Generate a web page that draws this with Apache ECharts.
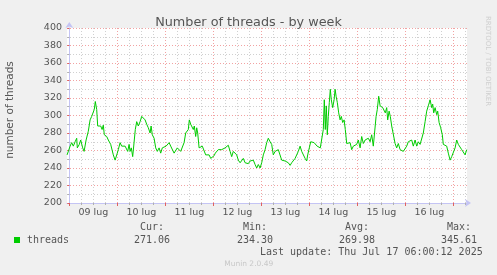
<!DOCTYPE html>
<html>
<head>
<meta charset="utf-8">
<script src="https://cdn.jsdelivr.net/npm/echarts@6/dist/echarts.min.js"></script>
<style>
html,body{margin:0;padding:0;background:#f0f0f0;}
#c{width:497px;height:275px;}
</style>
</head>
<body>
<div id="c"></div>
<script>
// hours since 09 lug 00:00
var hours = [
-1.1,-0.5,0.4,1.2,2.0,2.9,3.7,4.0,5.0,5.7,6.7,7.4,8.4,9.5,10.4,11.2,12.0,12.5,13.0,13.7,14.2,14.9,15.7,16.4,17.0,17.5,18.2,18.7,19.5,20.0,20.7,21.4,22.0,22.9,23.4,
24.0,24.5,25.4,26.2,27.0,27.9,28.7,29.2,29.9,30.4,31.0,31.7,32.4,33.0,33.7,34.5,35.4,36.2,37.0,37.9,38.7,39.5,40.4,40.9,41.5,42.4,43.2,44.0,44.9,45.7,46.5,47.4,
48.4,49.0,49.9,50.7,51.5,52.4,53.2,54.0,54.9,55.7,56.5,57.4,58.2,59.0,59.5,60.0,60.7,61.4,62.0,62.5,63.2,63.7,64.2,64.9,65.7,66.5,67.4,68.2,69.0,69.9,70.7,71.5,
72.4,73.0,73.7,74.5,75.4,76.2,77.0,77.9,78.7,79.5,80.4,81.2,82.0,82.9,83.7,84.5,85.4,86.2,87.0,87.9,88.7,89.5,90.4,91.2,92.0,92.9,93.7,94.5,95.4,
96.2,97.0,97.9,98.7,99.5,100.4,101.2,102.0,102.9,103.7,104.5,105.4,106.2,107.0,107.9,108.7,109.5,110.4,111.2,112.0,112.9,113.7,114.5,115.4,116.2,117.0,117.9,118.7,119.2,
120.0,120.7,121.5,122.4,123.2,123.9,124.7,125.5,126.4,127.0,127.5,128.0,128.5,129.0,129.5,130.0,130.5,131.0,131.7,132.4,132.9,133.4,134.0,134.7,135.4,136.0,136.7,137.4,138.0,138.7,139.5,140.4,141.2,142.0,142.9,143.7,
144.5,145.4,146.2,147.0,147.9,148.7,149.5,150.4,151.2,152.0,152.7,153.4,154.0,154.7,155.4,156.0,156.7,157.4,158.0,158.7,159.2,159.9,160.5,161.2,162.0,162.9,163.7,164.5,165.4,166.2,167.0,167.9,
168.7,169.5,170.4,171.2,172.0,172.9,173.7,174.5,175.4,176.2,177.0,177.9,178.7,179.5,180.4,181.2,181.7,182.2,182.9,183.7,184.2,184.9,185.7,186.5,187.0,187.9,188.7,189.5,190.4,191.2,
192.0,192.9,193.7,194.5,195.4,196.2,197.0,197.9,198.7
];
var threads = [
255,254,265,269,265,270,274,263,267,272,263,259,272,282,295,299,299,307,316,307,288,286,288,284,289,278,278,276,272,274,267,265,255,249,249,
257,261,269,265,267,265,266,259,267,259,263,253,253,284,293,288,293,299,299,295,290,286,280,288,278,274,263,259,263,257,263,261,
265,263,269,265,265,257,259,263,261,259,259,269,280,278,284,295,290,291,284,288,276,286,280,263,261,265,265,255,257,255,251,253,
254,257,259,261,259,261,260,263,261,266,259,253,259,261,255,249,246,248,251,246,248,245,248,246,249,244,240,244,240,
246,255,261,269,274,270,267,255,259,259,261,259,249,248,248,246,246,243,246,248,251,253,259,265,259,259,251,248,255,
263,270,270,269,268,265,267,263,261,284,318,284,311,278,299,315,330,318,309,318,330,322,315,303,295,299,292,295,284,268,267,269,261,265,263,267,
272,263,276,268,272,270,274,270,278,265,263,299,307,322,311,313,309,308,303,309,295,305,299,288,290,268,263,268,261,261,259,257,
265,270,268,272,265,272,265,270,267,268,280,293,305,311,318,309,313,303,309,301,305,292,286,278,267,265,265,257,249,253,
251,263,272,267,268,261,263,255,261
];
var dayTicks = [0,24,48,72,96,120,144,168,192];
var sixHourTicks = [6,12,18,30,36,42,54,60,66,78,84,90,102,108,114,126,132,138,150,156,162,174,180,186,198];
var labelHours = [12,36,60,84,108,132,156,180];
var dayLabels = ['09 lug','10 lug','11 lug','12 lug','13 lug','14 lug','15 lug','16 lug'];
var yTitle = 'number of threads';
var seriesName = 'threads';
var statLabels = ['Cur:','Min:','Avg:','Max:'];
var statValues = ['271.06','234.30','269.98','345.61'];
var lastUpdate = 'Last update: Thu Jul 17 06:00:12 2025';
var footer = 'Munin 2.0.49';
var sideText = 'RRDTOOL / TOBI OETIKER';
var titleText = 'Number of threads - by week';

var chart = echarts.init(document.getElementById('c'), null, {renderer:'canvas'});
var axisBlue = '#c4c4f4';
var redGrid = 'rgba(230,70,70,0.5)';
var grayGrid = 'rgba(150,150,150,0.45)';
var sans = 'DejaVu Sans';
var statX = [152, 255, 357, 459];

var graphics = [
  {type:'text', x:10, y:110, rotation:Math.PI/2, style:{text:yTitle, font:'10.5px "DejaVu Sans"', fill:'#555', textAlign:'center', textVerticalAlign:'middle'}},
  {type:'text', x:488, y:61, rotation:-Math.PI/2, style:{text:sideText, font:'7px "DejaVu Sans"', fill:'#cfcfcf', textAlign:'center', textVerticalAlign:'middle'}},
  {type:'rect', shape:{x:14, y:237, width:6, height:6}, style:{fill:'#00cc00'}},
  {type:'text', x:27, y:240, style:{text:seriesName, font:'10px "DejaVu Sans Mono"', fill:'#555', textAlign:'left', textVerticalAlign:'middle'}},
  {type:'text', x:482.7, y:252, style:{text:lastUpdate, font:'10px "DejaVu Sans Mono"', fill:'#555', textAlign:'right', textVerticalAlign:'middle'}},
  {type:'text', x:248.7, y:264, style:{text:footer, font:'7.5px "DejaVu Sans"', fill:'#c8c8c8', textAlign:'center', textVerticalAlign:'middle'}}
];
for (var i = 0; i < statLabels.length; i++) {
  graphics.push({type:'text', x:statX[i], y:227.5, style:{text:statLabels[i], font:'10px "DejaVu Sans Mono"', fill:'#555', textAlign:'center', textVerticalAlign:'middle'}});
  graphics.push({type:'text', x:statX[i], y:240, style:{text:statValues[i], font:'10px "DejaVu Sans Mono"', fill:'#555', textAlign:'center', textVerticalAlign:'middle'}});
}

var data = hours.map(function(h, i){ return [h, threads[i]]; });

chart.setOption({
  animation:false,
  backgroundColor:'#f0f0f0',
  title:{text:titleText, left:'center', top:11, textStyle:{fontFamily:sans, fontSize:12.8, fontWeight:'normal', color:'#555'}},
  grid:{left:67, top:28, width:400, height:175, show:true, backgroundColor:'#ffffff', borderWidth:0},
  xAxis:[
    {type:'value', position:'bottom', min:-1.15, max:198.85,
     axisLine:{show:true, lineStyle:{color:axisBlue, width:1}, symbol:['none','arrow'], symbolSize:[6,6], symbolOffset:[0,4]},
     axisTick:{show:true, customValues:sixHourTicks, length:2, lineStyle:{color:'#b0b0b0'}},
     axisLabel:{show:false},
     splitLine:{show:true, lineStyle:{color:grayGrid, type:[1,2], width:1}}},
    {type:'value', position:'bottom', min:-1.15, max:198.85,
     axisLine:{show:false},
     axisTick:{show:true, customValues:dayTicks, length:3, lineStyle:{color:'#e06060'}},
     axisLabel:{show:true, customValues:labelHours, margin:5, fontFamily:sans, fontSize:9.5, color:'#555',
       formatter:function(v){ var k = labelHours.indexOf(v); return k >= 0 ? dayLabels[k] : ''; }},
     splitLine:{show:true, lineStyle:{color:redGrid, type:[1,2], width:1}}}
  ],
  yAxis:{type:'value', min:200, max:400, interval:20,
    axisLine:{show:true, lineStyle:{color:axisBlue, width:1}, symbol:['none','arrow'], symbolSize:[6,6], symbolOffset:[0,6]},
    axisTick:{show:true, length:2, lineStyle:{color:'#e06060'}},
    minorTick:{show:true, splitNumber:2, length:2, lineStyle:{color:'#b0b0b0'}},
    axisLabel:{margin:5, fontFamily:sans, fontSize:9.5, color:'#555'},
    splitLine:{show:true, lineStyle:{color:redGrid, type:[1,2], width:1}},
    minorSplitLine:{show:true, lineStyle:{color:grayGrid, type:[1,2], width:1}}},
  series:[{type:'line', name:seriesName, xAxisIndex:0, data:data, showSymbol:false, symbol:'none',
    lineStyle:{color:'#00cc00', width:1}, z:5}],
  graphic:graphics
});
</script>
</body>
</html>
